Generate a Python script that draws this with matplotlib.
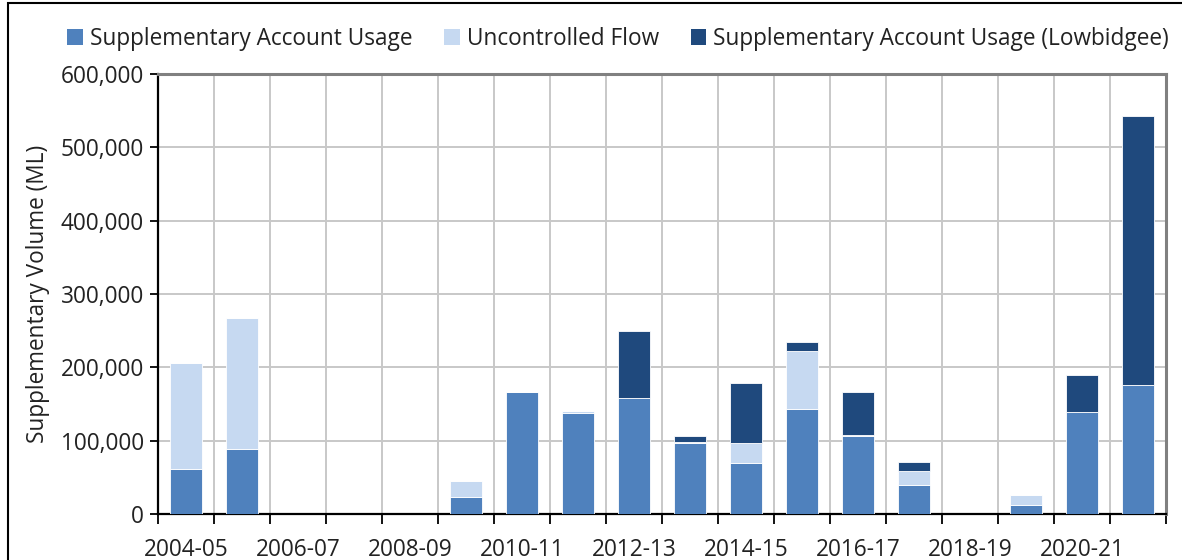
import matplotlib

matplotlib.use("Agg")
import matplotlib.pyplot as plt
import numpy as np
from matplotlib.patches import Rectangle, Patch
from matplotlib.ticker import FuncFormatter

plt.rcParams["font.family"] = ["Open Sans", "DejaVu Sans"]

years = ["2004-05", "2005-06", "2006-07", "2007-08", "2008-09", "2009-10",
         "2010-11", "2011-12", "2012-13", "2013-14", "2014-15", "2015-16",
         "2016-17", "2017-18", "2018-19", "2019-20", "2020-21", "2021-22"]
account_usage = [62000, 88000, 0, 0, 0, 23000, 167000, 138000, 158000, 97000,
                 69000, 143000, 106000, 40000, 0, 12000, 138500, 175500]
uncontrolled = [144500, 179500, 0, 0, 0, 21500, 0, 2500, 0, 1500,
                28000, 79000, 1500, 19000, 0, 14500, 0, 0]
lowbidgee = [0, 0, 0, 0, 0, 0, 0, 0, 92000, 7500,
             81000, 13000, 59500, 11500, 0, 0, 50500, 367000]

series_names = ["Supplementary Account Usage", "Uncontrolled Flow",
                "Supplementary Account Usage (Lowbidgee)"]
colours = ["#4f81bd", "#c6d9f1", "#1f497d"]
text_size = 16.3

fig = plt.figure(figsize=(11.82, 5.6), dpi=100)
ax = fig.add_axes([158 / 1182, 1 - 514 / 560, (1166 - 158) / 1182, (514 - 74) / 560])

x = np.arange(len(years))
bottom = np.zeros(len(years))
for values, colour in zip([account_usage, uncontrolled, lowbidgee], colours):
    ax.bar(x, values, width=0.57, bottom=bottom, color=colour,
           edgecolor="white", linewidth=0.6, zorder=3)
    bottom += np.array(values)

ax.set_xlim(-0.5, len(years) - 0.5)
ax.set_ylim(0, 600000)
ax.set_yticks(np.arange(0, 600001, 100000))
ax.yaxis.set_major_formatter(FuncFormatter(lambda v, _: f"{int(v):,}"))

# boundaries carry the tick marks and vertical grid, labels sit on every other bar
ax.set_xticks(np.arange(-0.5, len(years), 1.0))
ax.set_xticklabels([])
ax.set_xticks(x[::2], minor=True)
ax.set_xticklabels(years[::2], minor=True)
ax.tick_params(axis="x", which="major", direction="out", length=7, width=1.3, color="black")
ax.tick_params(axis="x", which="minor", length=0, pad=17, labelsize=text_size, labelcolor="#222222")
ax.tick_params(axis="y", direction="out", length=6, width=1.3, color="black",
               labelsize=text_size, labelcolor="#222222", pad=4)

ax.grid(True, which="major", color="#c8c8c8", linewidth=1.4, zorder=0)
ax.set_axisbelow(True)

ax.spines["left"].set_color("black")
ax.spines["left"].set_linewidth(1.6)
ax.spines["bottom"].set_color("black")
ax.spines["bottom"].set_linewidth(1.6)
for side in ("top", "right"):
    ax.spines[side].set_color("#808080")
    ax.spines[side].set_linewidth(2.2)

ax.set_ylabel("Supplementary Volume (ML)", fontsize=text_size, color="#222222", labelpad=8)

handles = [Patch(facecolor=c, edgecolor="none") for c in colours]
fig.legend(handles, series_names, loc="center", bbox_to_anchor=(618 / 1182, 1 - 39 / 560),
           ncol=3, frameon=False, fontsize=text_size, handlelength=0.7, handleheight=0.7,
           handletextpad=0.3, columnspacing=1.4, labelcolor="#222222")

# outer chart border, runs off the right and bottom edges like the source
fig.patches.append(Rectangle((8 / 1182, -0.1), 1.2, 1.1 - 3 / 560,
                             transform=fig.transFigure, fill=False,
                             edgecolor="black", linewidth=1.5))

fig.savefig("out.png", dpi=100)
